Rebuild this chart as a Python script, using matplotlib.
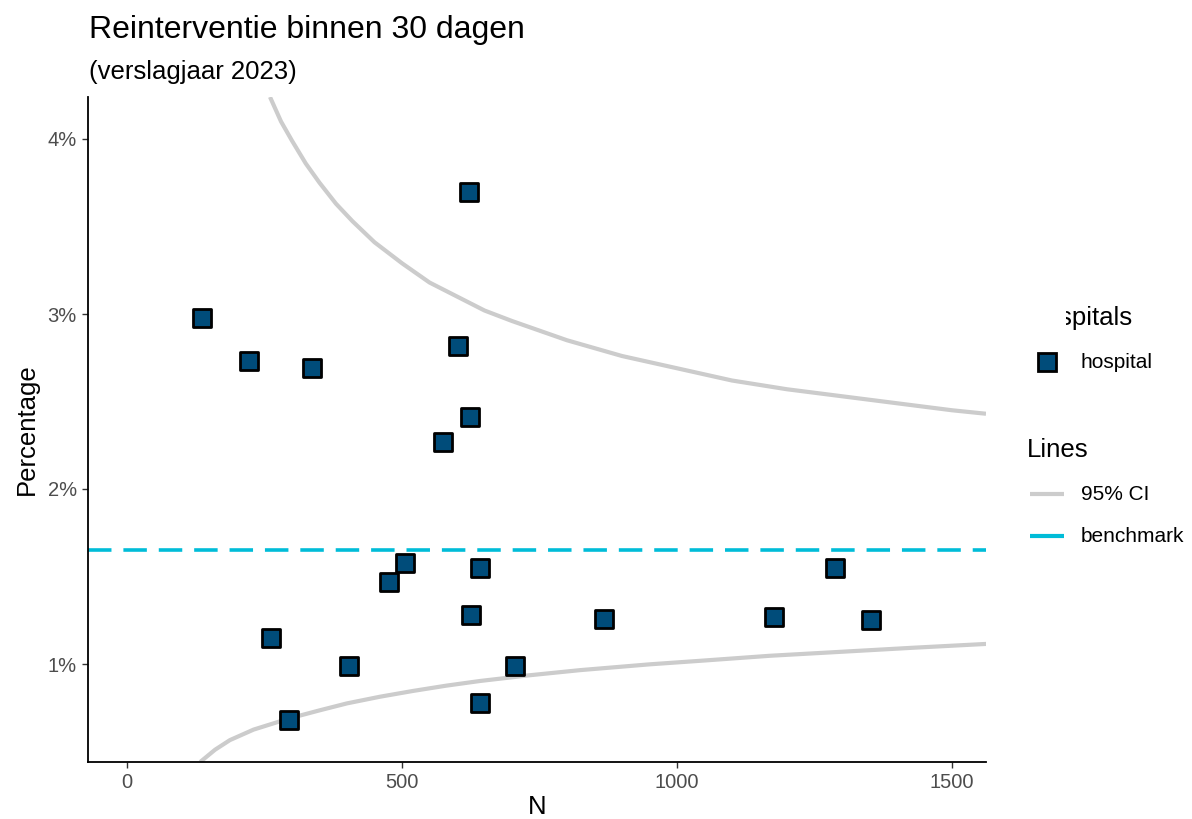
import matplotlib.pyplot as plt
from matplotlib.lines import Line2D
from matplotlib.transforms import Bbox
from matplotlib.ticker import FuncFormatter

plt.rcParams['font.family'] = ['Liberation Sans', 'DejaVu Sans']

# ziekenhuizen: aantal (N) en percentage reinterventie
n_hosp = [136, 222, 336, 622, 602, 624, 575, 505, 476, 642,
          262, 625, 867, 1176, 1287, 1353, 404, 705, 295, 642]
pct_hosp = [2.98, 2.73, 2.69, 3.70, 2.82, 2.41, 2.27, 1.58, 1.47, 1.55,
            1.15, 1.28, 1.26, 1.27, 1.55, 1.25, 0.99, 0.99, 0.68, 0.78]

benchmark = 1.65

ci_upper_n = [260, 280, 300, 325, 350, 380, 410, 450, 500, 550, 600, 650, 700,
              800, 900, 1000, 1100, 1200, 1300, 1400, 1500, 1562]
ci_upper = [4.24, 4.10, 3.99, 3.86, 3.75, 3.63, 3.53, 3.41, 3.29, 3.18, 3.10, 3.02, 2.96,
            2.85, 2.76, 2.69, 2.62, 2.57, 2.53, 2.49, 2.45, 2.43]
ci_lower_n = [133, 160, 187, 230, 296, 350, 400, 460, 520, 580, 642, 730, 824,
              950, 1050, 1169, 1300, 1430, 1564]
ci_lower = [0.44, 0.51, 0.565, 0.625, 0.69, 0.735, 0.775, 0.813, 0.846, 0.876, 0.903,
            0.935, 0.965, 0.998, 1.02, 1.047, 1.07, 1.093, 1.115]

x_ticks = [0, 500, 1000, 1500]
y_ticks = [1, 2, 3, 4]

W, H = 1192, 819
fig = plt.figure(figsize=(W / 100, H / 100), dpi=100)
ax = fig.add_axes([88 / W, 1 - 762 / H, (986 - 88) / W, (762 - 97) / H])

gray = '#CCCCCC'
cyan = '#00BCD8'
fill = '#004C7A'

ax.plot(ci_upper_n, ci_upper, color=gray, lw=3, solid_capstyle='butt', zorder=2)
ax.plot(ci_lower_n, ci_lower, color=gray, lw=3, solid_capstyle='butt', zorder=2)
ax.axhline(benchmark, color=cyan, lw=2.6, dashes=(6.5, 3.3), zorder=2)
ax.scatter(n_hosp, pct_hosp, marker='s', s=180, facecolor=fill,
           edgecolor='black', linewidth=2, zorder=3)

ax.set_xlim(-71, 1562)
ax.set_ylim(0.44, 4.24)
ax.set_xticks(x_ticks)
ax.set_yticks(y_ticks)
ax.yaxis.set_major_formatter(FuncFormatter(lambda v, p: f"{v:.0f}%"))
for s in ['top', 'right']:
    ax.spines[s].set_visible(False)
for s in ['left', 'bottom']:
    ax.spines[s].set_linewidth(1.3)
ax.tick_params(length=4, width=1, pad=4, color='#333333', labelcolor='#4D4D4D', labelsize=14.5)
ax.set_xlabel('N', fontsize=18.5, labelpad=2)
ax.set_ylabel('Percentage', fontsize=18.5, labelpad=6)

fig.text(89 / W, 1 - 30 / H, 'Reinterventie binnen 30 dagen', fontsize=23, va='center')
fig.text(89 / W, 1 - 72 / H, '(verslagjaar 2023)', fontsize=18.5, va='center')

# legenda (handmatig, titel 'Hospitals' is afgesneden zoals in het origineel)
t = fig.text(1027 / W, 1 - 318 / H, 'Hospitals', fontsize=18.5, va='center')
t.set_clip_box(Bbox([[1066, 0], [W, H]]))
t.set_clip_on(True)
fig.add_artist(Line2D([1047 / W], [1 - 362 / H], marker='s', markersize=12.5,
                      markerfacecolor=fill, markeredgecolor='black',
                      markeredgewidth=2, linestyle='none'))
fig.text(1081 / W, 1 - 362 / H, 'hospital', fontsize=15, va='center')

fig.text(1027 / W, 1 - 450 / H, 'Lines', fontsize=18.5, va='center')
fig.add_artist(Line2D([1030 / W, 1064 / W], [1 - 494 / H, 1 - 494 / H],
                      color=gray, lw=3, solid_capstyle='butt'))
fig.text(1081 / W, 1 - 494 / H, '95% CI', fontsize=15, va='center')
fig.add_artist(Line2D([1030 / W, 1064 / W], [1 - 536 / H, 1 - 536 / H],
                      color=cyan, lw=3, solid_capstyle='butt'))
fig.text(1081 / W, 1 - 536 / H, 'benchmark', fontsize=15, va='center')

fig.savefig('out.png', dpi=100)
